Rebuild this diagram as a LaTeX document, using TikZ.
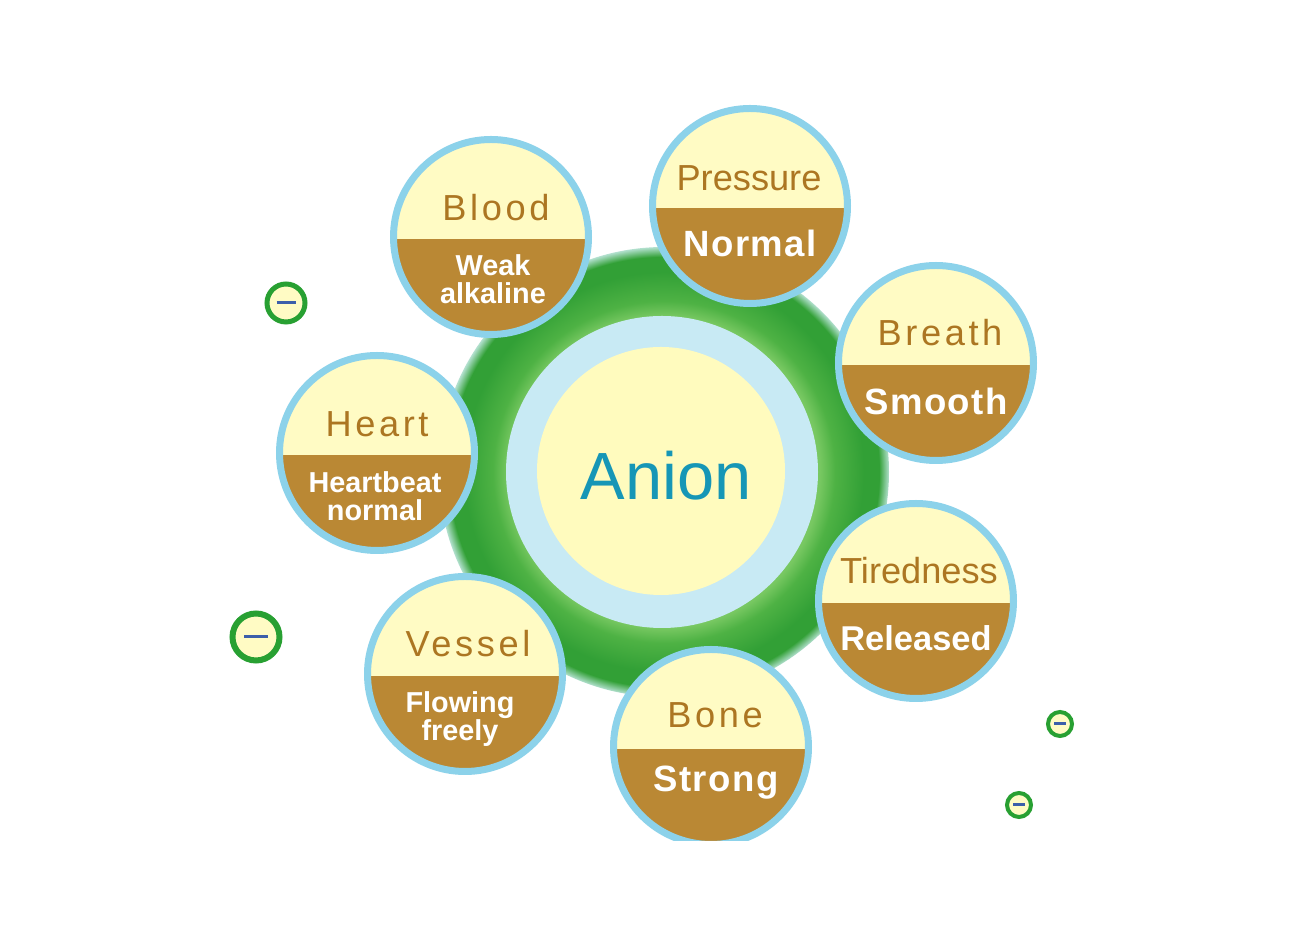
\documentclass[tikz,border=0pt]{standalone}
\usepackage{fontspec}
\setmainfont{Liberation Sans}
\newfontfamily\wideface[LetterSpace=10]{Liberation Sans}
\newfontfamily\snugface[LetterSpace=4]{Liberation Sans}
\usetikzlibrary{positioning,calc}

\definecolor{rimblue}{RGB}{140,210,234}
\definecolor{haloblue}{RGB}{200,234,244}
\definecolor{capyellow}{RGB}{255,251,196}
\definecolor{coreyellow}{RGB}{255,251,190}
\definecolor{soilbrown}{RGB}{186,136,52}
\definecolor{labelbrown}{RGB}{172,118,34}
\definecolor{aniontext}{RGB}{22,150,182}
\definecolor{ringlight}{RGB}{120,200,98}
\definecolor{ringmid}{RGB}{78,178,68}
\definecolor{ringdark}{RGB}{50,160,54}
\definecolor{ringedge}{RGB}{178,224,206}
\definecolor{iongreen}{RGB}{40,160,50}
\definecolor{dashblue}{RGB}{60,95,170}

\pgfdeclareradialshading{greenring}{\pgfpoint{0bp}{0bp}}{color(0bp)=(ringlight); color(17.3bp)=(ringlight); color(19bp)=(ringmid); color(22.2bp)=(ringdark); color(23.9bp)=(ringdark); color(25bp)=(ringedge); color(50bp)=(ringedge)}

\begin{document}
\begin{tikzpicture}[
    x=0.1mm, y=-0.1mm,
    sat/.style={circle, draw=rimblue, line width=0.7mm, fill=capyellow, minimum size=19.5mm, inner sep=0pt,
      path picture={\fill[soilbrown] ([yshift=-0.2mm]path picture bounding box.west) rectangle (path picture bounding box.south east);}},
    toplab/.style={font=\fontsize{10.3}{12}\wideface, text=labelbrown, inner sep=0pt},
    botlab/.style={font=\fontsize{10.4}{12}\snugface\bfseries, text=white, inner sep=0pt},
    twolab/.style={font=\fontsize{8.2}{8}\selectfont\bfseries, text=white, align=center, inner sep=0pt},
    ion/.style={circle, draw=iongreen, fill=capyellow, inner sep=0pt,
      path picture={\draw[dashblue, line width=0.3mm]
        ($(path picture bounding box.west)!0.25!(path picture bounding box.east)$) --
        ($(path picture bounding box.west)!0.75!(path picture bounding box.east)$);}}
  ]
    \useasboundingbox[fill=white] (0,0) rectangle (1300,950);

    \node[circle, shade, shading=greenring, minimum size=45mm, inner sep=0pt] (ring) at (664,472) {};
    \node[circle, fill=haloblue, minimum size=31.2mm, inner sep=0pt] (halo) at (662,472) {};
    \node[circle, fill=coreyellow, minimum size=24.8mm, inner sep=0pt] (core) at (661,471) {};
    \node[font=\fontsize{19}{22}\selectfont, text=aniontext, inner sep=0pt] (anion) at (666,476) {Anion};

    \node[sat] (blood) at (491,237) {};
    \node[toplab] (blood-top) at ($(blood)+(5,-29)$) {Blood};
    \node[twolab] (blood-bot) at ($(blood)+(2,42)$) {Weak\\alkaline};

    \node[sat] (pressure) at (750,206) {};
    \node[toplab, font=\fontsize{10.3}{12}\selectfont] (pressure-top) at ($(pressure)+(-1,-28)$) {Pressure};
    \node[botlab] (pressure-bot) at ($(pressure)+(0,37)$) {Normal};

    \node[sat] (breath) at (936,363) {};
    \node[toplab] (breath-top) at ($(breath)+(4,-30)$) {Breath};
    \node[botlab] (breath-bot) at ($(breath)+(0,38)$) {Smooth};

    \node[sat] (heart) at (377,453) {};
    \node[toplab] (heart-top) at ($(heart)+(0,-29)$) {Heart};
    \node[twolab] (heart-bot) at ($(heart)+(-2,43)$) {Heartbeat\\normal};

    \node[sat] (tiredness) at (916,601) {};
    \node[toplab, font=\fontsize{10.3}{12}\selectfont] (tiredness-top) at ($(tiredness)+(3,-30)$) {Tiredness};
    \node[botlab, font=\fontsize{9.8}{12}\selectfont\bfseries] (tiredness-bot) at ($(tiredness)+(0,37)$) {Released};

    \node[sat] (vessel) at (465,674) {};
    \node[toplab] (vessel-top) at ($(vessel)+(3,-30)$) {Vessel};
    \node[twolab] (vessel-bot) at ($(vessel)+(-5,45)$) {Flowing\\freely};

    \begin{scope}
      \clip (0,0) rectangle (1300,841);
      \node[sat] (bone) at (711,747) {};
    \end{scope}
    \node[toplab] (bone-top) at ($(bone)+(4,-32)$) {Bone};
    \node[botlab] (bone-bot) at ($(bone)+(5,36)$) {Strong};

    \node[ion, minimum size=3.8mm, line width=0.5mm] (ion-a) at (286,303) {};
    \node[ion, minimum size=4.7mm, line width=0.6mm] (ion-b) at (256,637) {};
    \node[ion, minimum size=2.4mm, line width=0.4mm] (ion-c) at (1060,724) {};
    \node[ion, minimum size=2.4mm, line width=0.4mm] (ion-d) at (1019,805) {};
  \end{tikzpicture}
\end{document}
